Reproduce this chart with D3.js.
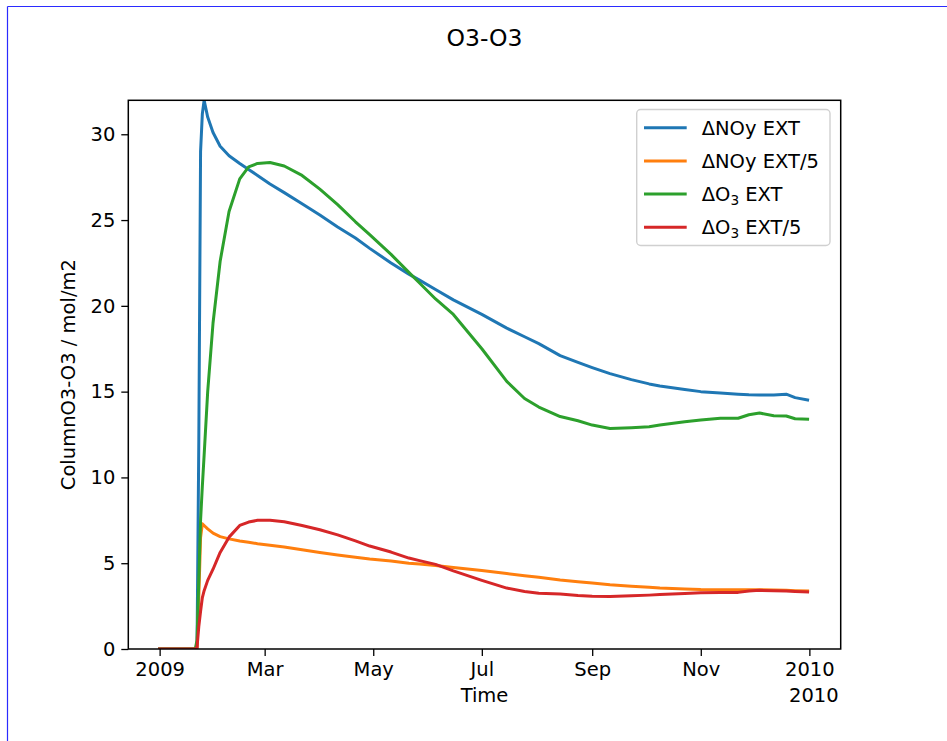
<!DOCTYPE html>
<html>
<head>
<meta charset="utf-8">
<script src="https://cdn.jsdelivr.net/npm/d3@7"></script>
<style>
  html, body { margin: 0; padding: 0; background: #fff; }
  svg { display: block; }
  text { font-family: "DejaVu Sans", sans-serif; fill: #000; }
</style>
</head>
<body>
<svg id="chart" width="947" height="741"></svg>
<script>
// ---------------- data ----------------
const chartTitle = "O3-O3";
const xLabel = "Time";
const yLabel = "ColumnO3-O3 / mol/m2";
const offsetLabel = "2010";

const dates = [
  "2009-01-01","2009-01-21","2009-01-22","2009-01-23","2009-01-24","2009-01-25","2009-01-26",
  "2009-01-28","2009-01-31","2009-02-04","2009-02-09","2009-02-15","2009-02-20","2009-02-25",
  "2009-03-04","2009-03-12","2009-03-22","2009-04-01","2009-04-11","2009-04-21","2009-04-29",
  "2009-05-11","2009-05-21","2009-05-27","2009-06-05","2009-06-15","2009-07-01","2009-07-15",
  "2009-07-25","2009-08-02","2009-08-14","2009-08-24","2009-09-01","2009-09-11","2009-09-23",
  "2009-10-03","2009-10-09","2009-10-23","2009-11-01","2009-11-12","2009-11-22","2009-11-28",
  "2009-12-04","2009-12-12","2009-12-19","2009-12-24","2009-12-31"
];

const noyExt = [
  0, 0, 0, 12, 29, 31.2, 31.98,
  31.0, 30.1, 29.3, 28.75, 28.3, 27.95, 27.6,
  27.1, 26.6, 25.95, 25.3, 24.6, 23.95, 23.35,
  22.5, 21.85, 21.5, 20.95, 20.35, 19.5, 18.7,
  18.2, 17.8, 17.1, 16.7, 16.4, 16.05, 15.7,
  15.45, 15.33, 15.12, 15.0, 14.92, 14.85, 14.82,
  14.81, 14.8, 14.85, 14.65, 14.51
];
const noyExt5 = [
  0, 0, 0, 3, 6.5, 7.3, 7.2,
  7.0, 6.75, 6.55, 6.42, 6.3, 6.22, 6.14,
  6.05, 5.95, 5.78, 5.62, 5.48, 5.35, 5.25,
  5.13, 5.0, 4.95, 4.87, 4.75, 4.58, 4.4,
  4.27, 4.18, 4.02, 3.92, 3.84, 3.74, 3.66,
  3.6, 3.55, 3.5, 3.47, 3.46, 3.46, 3.46,
  3.45, 3.44, 3.42, 3.4, 3.38
];
const o3Ext = [
  0, 0, 0.5, 4, 7.5, 9.5, 11.3,
  15, 19.0, 22.6, 25.5, 27.4, 28.1, 28.3,
  28.35, 28.15, 27.6, 26.8, 25.9, 24.9, 24.15,
  23.0, 21.95, 21.33, 20.4, 19.5, 17.5, 15.6,
  14.6, 14.1, 13.55, 13.3, 13.05, 12.85, 12.9,
  12.95, 13.05, 13.25, 13.35, 13.45, 13.45, 13.65,
  13.75, 13.6, 13.58, 13.42, 13.39
];
const o3Ext5 = [
  0, 0, 0.1, 1.3, 2.2, 3.0, 3.4,
  4.0, 4.65, 5.63, 6.52, 7.2, 7.4, 7.5,
  7.5, 7.42, 7.2, 6.95, 6.65, 6.3, 6.0,
  5.65, 5.3, 5.15, 4.93, 4.55, 4.0, 3.55,
  3.35, 3.25, 3.2, 3.12, 3.08, 3.06, 3.1,
  3.14, 3.17, 3.24, 3.28, 3.3, 3.3, 3.38,
  3.42, 3.4, 3.38, 3.35, 3.32
];

const seriesNames = ["ΔNOy EXT", "ΔNOy EXT/5", "ΔO3 EXT", "ΔO3 EXT/5"];
const seriesColors = ["#1f77b4", "#ff7f0e", "#2ca02c", "#d62728"];

const xTickDates = ["2009-01-01","2009-03-01","2009-05-01","2009-07-01","2009-09-01","2009-11-01","2010-01-01"];
const xTickLabels = ["2009","Mar","May","Jul","Sep","Nov","2010"];
const yTicks = [0, 5, 10, 15, 20, 25, 30];

// ---------------- layout ----------------
const svg = d3.select("#chart");
const W = 947, H = 741;
const plot = { left: 128.3, right: 840.7, top: 100.3, bottom: 649 };
const FS = 19.5;

svg.append("rect").attr("width", W).attr("height", H).attr("fill", "#fff");

// viewer border (blue) at left and top
svg.append("line").attr("x1", 7.5).attr("x2", 7.5).attr("y1", 6.5).attr("y2", H)
  .attr("stroke", "#2b2bff").attr("stroke-width", 1.2);
svg.append("line").attr("x1", 7.5).attr("x2", W).attr("y1", 6.5).attr("y2", 6.5)
  .attr("stroke", "#2b2bff").attr("stroke-width", 1.2);

const parse = d3.utcParse("%Y-%m-%d");
const t = dates.map(parse);
const DAY = 86400000;
const marginDays = 17.6;
const x0 = new Date(parse(dates[0]).getTime() - marginDays * DAY);
const x1 = new Date(parse("2010-01-01").getTime() + marginDays * DAY);

const x = d3.scaleUtc().domain([x0, x1]).range([plot.left, plot.right]);
const y = d3.scaleLinear().domain([0, d3.max(noyExt)]).range([plot.bottom, plot.top]);

// clip
svg.append("defs").append("clipPath").attr("id", "clip")
  .append("rect").attr("x", plot.left).attr("y", plot.top)
  .attr("width", plot.right - plot.left).attr("height", plot.bottom - plot.top);

const allSeries = [noyExt, noyExt5, o3Ext, o3Ext5];
const line = d3.line().x((d, i) => x(t[i])).y(d => y(d));

const g = svg.append("g").attr("clip-path", "url(#clip)");
allSeries.forEach((s, k) => {
  g.append("path").datum(s)
    .attr("d", line)
    .attr("fill", "none")
    .attr("stroke", seriesColors[k])
    .attr("stroke-width", 3)
    .attr("stroke-linejoin", "round")
    .attr("stroke-linecap", "square");
});

// axes
const xAxis = d3.axisBottom(x)
  .tickValues(xTickDates.map(parse))
  .tickFormat((d, i) => xTickLabels[i])
  .tickSize(7).tickPadding(6).tickSizeOuter(0);
const gx = svg.append("g").attr("transform", `translate(0,${plot.bottom})`).call(xAxis);
gx.select(".domain").remove();
gx.selectAll(".tick line").attr("stroke", "#000").attr("stroke-width", 1.3);
gx.selectAll(".tick text").attr("font-size", FS).attr("font-family", "DejaVu Sans").attr("fill", "#000");

const yAxis = d3.axisLeft(y).tickValues(yTicks).tickFormat(d3.format("d"))
  .tickSize(7).tickPadding(6).tickSizeOuter(0);
const gy = svg.append("g").attr("transform", `translate(${plot.left},0)`).call(yAxis);
gy.select(".domain").remove();
gy.selectAll(".tick line").attr("stroke", "#000").attr("stroke-width", 1.3);
gy.selectAll(".tick text").attr("font-size", FS).attr("font-family", "DejaVu Sans").attr("fill", "#000");

// frame
svg.append("rect").attr("x", plot.left).attr("y", plot.top)
  .attr("width", plot.right - plot.left).attr("height", plot.bottom - plot.top)
  .attr("fill", "none").attr("stroke", "#000").attr("stroke-width", 1.5);

// title and labels
svg.append("text").attr("x", (plot.left + plot.right) / 2).attr("y", 46)
  .attr("text-anchor", "middle").attr("font-size", 23.5).text(chartTitle);
svg.append("text").attr("x", (plot.left + plot.right) / 2).attr("y", 702)
  .attr("text-anchor", "middle").attr("font-size", FS).text(xLabel);
svg.append("text").attr("x", plot.right - 2).attr("y", 702)
  .attr("text-anchor", "end").attr("font-size", FS).text(offsetLabel);
svg.append("text")
  .attr("transform", `translate(75,${(plot.top + plot.bottom) / 2}) rotate(-90)`)
  .attr("text-anchor", "middle").attr("font-size", FS).text(yLabel);

// legend
const lg = svg.append("g");
const lgBox = { x: 636.7, y: 109.5, w: 193.3, h: 136 };
lg.append("rect").attr("x", lgBox.x).attr("y", lgBox.y).attr("width", lgBox.w).attr("height", lgBox.h)
  .attr("rx", 4).attr("fill", "#fff").attr("fill-opacity", 0.8)
  .attr("stroke", "#d0d0d0").attr("stroke-width", 1.4);
const rowY0 = 127.7, rowDY = 33.2;
seriesNames.forEach((name, k) => {
  const ry = rowY0 + k * rowDY;
  lg.append("line").attr("x1", 644).attr("x2", 686.7).attr("y1", ry).attr("y2", ry)
    .attr("stroke", seriesColors[k]).attr("stroke-width", 3);
  const txt = lg.append("text").attr("x", 701.7).attr("y", ry + 7).attr("font-size", FS);
  const m = name.match(/^(ΔO)(3)(.*)$/);
  if (m) {
    txt.append("tspan").text(m[1]);
    txt.append("tspan").attr("font-size", FS * 0.7).attr("dy", 4).text(m[2]);
    txt.append("tspan").attr("dy", -4).text(m[3]);
  } else {
    txt.text(name);
  }
});
</script>
</body>
</html>
